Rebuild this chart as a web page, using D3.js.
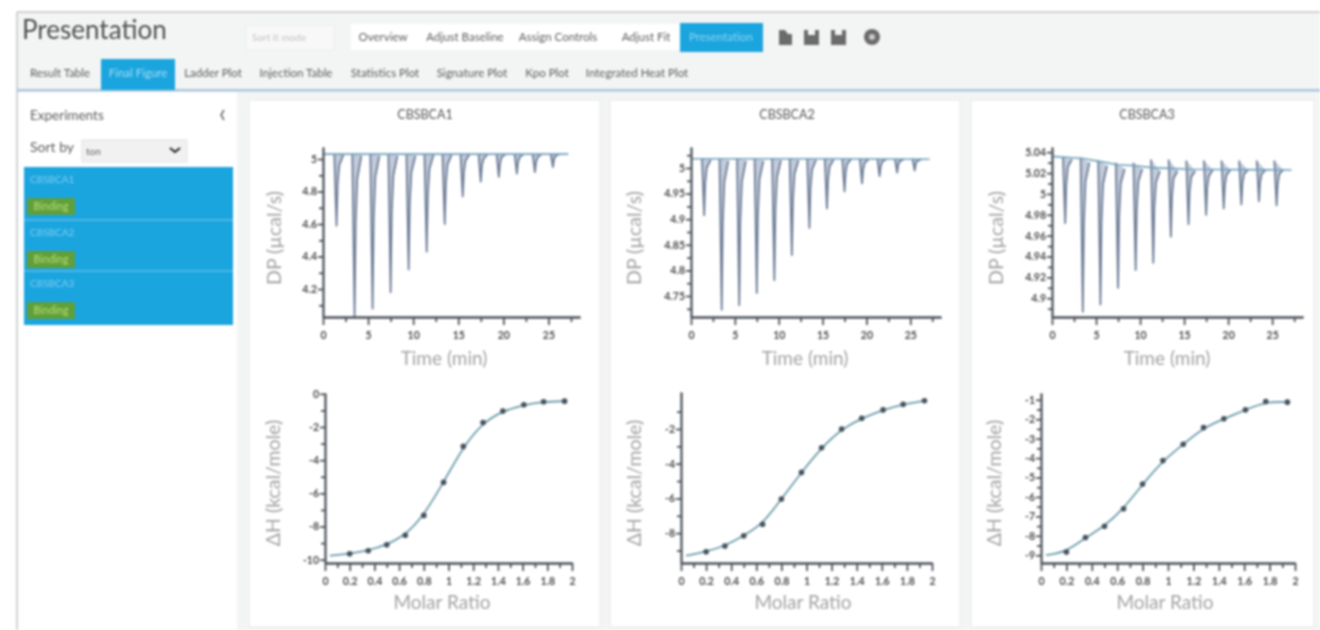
<!DOCTYPE html>
<html>
<head>
<meta charset="utf-8">
<script src="https://cdn.jsdelivr.net/npm/d3@7"></script>
<style>
html, body { margin: 0; padding: 0; background: #fff; overflow: hidden; }
svg { display: block; filter: blur(0.9px); }
text { font-family: Lato, "Open Sans", sans-serif; }
.tick text { font-size: 10.5px; font-weight: 700; fill: #4a4a4a; }
</style>
</head>
<body>
<div id="chart"></div>
<script>
// toolbar + sidebar texts
const navButtons = ['Overview', 'Adjust Baseline', 'Assign Controls', 'Adjust Fit']
const tabNames = ['Result Table', 'Final Figure', 'Ladder Plot', 'Injection Table', 'Statistics Plot', 'Signature Plot', 'Kpo Plot', 'Integrated Heat Plot']
const experimentNames = ['CBSBCA1', 'CBSBCA2', 'CBSBCA3']

// thermograms: 13 injections, every peak read as level before / tip / three points on the way back
const injectionTimes = [1.5, 3.5, 5.5, 7.5, 9.5, 11.5, 13.5, 15.5, 17.5, 19.5, 21.5, 23.5, 25.5]
const peakOffsets = [-0.25, 0, 0.12, 0.3, 0.75]

const dpLevel1 = [5.03, 5.03, 5.03, 5.03, 5.03, 5.03, 5.03, 5.03, 5.03, 5.03, 5.03, 5.03, 5.03]
const dpTip1 = [4.59, 4.03, 4.08, 4.18, 4.32, 4.43, 4.6, 4.77, 4.86, 4.89, 4.91, 4.92, 4.95]
const dpFall1 = [4.845, 4.61, 4.63, 4.67, 4.73, 4.78, 4.85, 4.92, 4.96, 4.97, 4.98, 4.98, 5]
const dpRise1 = [4.96, 4.88, 4.89, 4.9, 4.92, 4.94, 4.965, 4.99, 5, 5.01, 5.01, 5.01, 5.02]
const dpTail1 = [5.025, 5.02, 5.02, 5.02, 5.02, 5.025, 5.025, 5.03, 5.03, 5.03, 5.03, 5.03, 5.03]

const dpLevel2 = [5.018, 5.018, 5.018, 5.018, 5.018, 5.018, 5.018, 5.018, 5.018, 5.018, 5.018, 5.018, 5.018]
const dpTip2 = [4.908, 4.723, 4.732, 4.756, 4.781, 4.83, 4.883, 4.921, 4.954, 4.97, 4.984, 4.991, 4.995]
const dpFall2 = [4.971, 4.894, 4.897, 4.907, 4.918, 4.938, 4.961, 4.977, 4.991, 4.997, 5.003, 5.006, 5.008]
const dpRise2 = [5.001, 4.973, 4.974, 4.978, 4.982, 4.989, 4.997, 5.003, 5.008, 5.01, 5.012, 5.013, 5.014]
const dpTail2 = [5.016, 5.014, 5.014, 5.014, 5.015, 5.015, 5.016, 5.016, 5.017, 5.017, 5.017, 5.017, 5.017]

const dpLevel3 = [5.035, 5.035, 5.032, 5.03, 5.03, 5.033, 5.033, 5.032, 5.032, 5.032, 5.032, 5.032, 5.032]
const dpTip3 = [4.972, 4.887, 4.894, 4.91, 4.927, 4.934, 4.959, 4.971, 4.98, 4.986, 4.99, 4.993, 4.989]
const dpFall3 = [5.009, 4.972, 4.973, 4.978, 4.985, 4.987, 4.997, 5.002, 5.006, 5.008, 5.01, 5.011, 5.009]
const dpRise3 = [5.026, 5.012, 5.01, 5.01, 5.012, 5.011, 5.015, 5.016, 5.017, 5.018, 5.019, 5.019, 5.019]
const dpTail3 = [5.033, 5.03, 5.027, 5.024, 5.024, 5.022, 5.022, 5.022, 5.023, 5.023, 5.023, 5.023, 5.023]

// fitted baseline under the thermograms
const baseTimes = [0, 3.5, 5.5, 7.5, 9.5, 11.5, 13.5, 15.5, 27.2]
const baseline1 = [5.03, 5.03, 5.03, 5.03, 5.03, 5.03, 5.03, 5.03, 5.03]
const baseline2 = [5.018, 5.018, 5.018, 5.018, 5.018, 5.018, 5.018, 5.018, 5.017]
const baseline3 = [5.036, 5.034, 5.031, 5.028, 5.027, 5.025, 5.0245, 5.0236, 5.023]

// integrated heats
const molarRatio = [0.2, 0.35, 0.5, 0.65, 0.8, 0.96, 1.12, 1.28, 1.44, 1.61, 1.77, 1.94]
const heat1 = [-9.64, -9.46, -9.1, -8.53, -7.33, -5.34, -3.17, -1.73, -1.04, -0.66, -0.48, -0.44]
const heat2 = [-9.07, -8.74, -8.15, -7.49, -6.03, -4.5, -3.08, -2, -1.38, -0.9, -0.58, -0.37]
const heat3 = [-8.83, -8.09, -7.51, -6.61, -5.34, -4.13, -3.29, -2.43, -1.98, -1.52, -1.09, -1.12]
const fitStartRatio = 0.04
const fitStartHeat = [-9.76, -9.3, -9]

// axis ticks
const timeTicks = [0, 5, 10, 15, 20, 25]
const timeMinor = [2.5, 7.5, 12.5, 17.5, 22.5, 27.5]
const ratioTicks = [0, 0.2, 0.4, 0.6, 0.8, 1, 1.2, 1.4, 1.6, 1.8, 2]
const ratioMinor = [0.1, 0.3, 0.5, 0.7, 0.9, 1.1, 1.3, 1.5, 1.7, 1.9]
const dpTicks1 = [5, 4.8, 4.6, 4.4, 4.2]
const dpMinor1 = [4.9, 4.7, 4.5, 4.3, 4.1]
const dpTicks2 = [5, 4.95, 4.9, 4.85, 4.8, 4.75]
const dpMinor2 = [5.025, 4.975, 4.925, 4.875, 4.825, 4.775, 4.725]
const dpTicks3 = [5.04, 5.02, 5, 4.98, 4.96, 4.94, 4.92, 4.9]
const dpMinor3 = [5.03, 5.01, 4.99, 4.97, 4.95, 4.93, 4.91, 4.89]
const heatTicks1 = [0, -2, -4, -6, -8, -10]
const heatMinor1 = [-1, -3, -5, -7, -9]
const heatTicks2 = [-2, -4, -6, -8]
const heatMinor2 = [-1, -3, -5, -7, -9]
const heatTicks3 = [-1, -2, -3, -4, -5, -6, -7, -8, -9]
const heatMinor3 = [-1.5, -2.5, -3.5, -4.5, -5.5, -6.5, -7.5, -8.5]

const blue = '#1ba5df'
const width = 1320
const height = 630

const svg = d3.select('#chart').append('svg').attr('width', width).attr('height', height)

// ---- page chrome ----
svg.append('rect').attr('x', 17).attr('y', 12).attr('width', 1303).attr('height', 618).attr('fill', '#f3f4f4')
svg.append('line').attr('x1', 17).attr('x2', 1320).attr('y1', 12).attr('y2', 12).attr('stroke', '#a9a9a9').attr('stroke-width', 1)
svg.append('line').attr('x1', 17).attr('x2', 17).attr('y1', 12).attr('y2', 630).attr('stroke', '#a9a9a9').attr('stroke-width', 1)
svg.append('text').attr('x', 22).attr('y', 39).attr('font-size', 26).attr('fill', '#4f4f4f').text('Presentation')

// search box and nav buttons
svg.append('rect').attr('x', 246).attr('y', 25).attr('width', 88).attr('height', 25).attr('fill', '#f8f8f8').attr('stroke', '#ececec')
svg.append('text').attr('x', 252).attr('y', 41).attr('font-size', 10).attr('fill', '#c4c4c4').text('Sort it mode')
svg.append('rect').attr('x', 351).attr('y', 24).attr('width', 330).attr('height', 26).attr('fill', '#fff')
const navX = [383, 465, 558, 646]
svg.selectAll('.nav').data(navButtons).join('text').attr('class', 'nav')
    .attr('x', (d, i) => navX[i]).attr('y', 41).attr('text-anchor', 'middle')
    .attr('font-size', 11.5).attr('fill', '#5c5c5c').text(d => d)
svg.append('rect').attr('x', 680).attr('y', 23).attr('width', 83).attr('height', 29).attr('fill', blue)
svg.append('text').attr('x', 721).attr('y', 41).attr('text-anchor', 'middle').attr('font-size', 11.5).attr('fill', '#8fd3f0').text('Presentation')

// toolbar icons
const icons = svg.append('g').attr('fill', '#6b6b6b')
icons.append('path').attr('d', 'M779 30h6l3 4h4v11h-13z')
icons.append('path').attr('d', 'M804 30h15v15h-15z M808 30v5h7v-5z').attr('fill-rule', 'evenodd')
icons.append('path').attr('d', 'M831 30h15v15h-15z M835 30v5h7v-5z').attr('fill-rule', 'evenodd')
icons.append('circle').attr('cx', 872).attr('cy', 37).attr('r', 8)
icons.append('circle').attr('cx', 872).attr('cy', 37).attr('r', 3).attr('fill', '#c9c9c9')

// tabs
svg.append('rect').attr('x', 17).attr('y', 89).attr('width', 1303).attr('height', 2.5).attr('fill', '#a9c6dc')
svg.append('rect').attr('x', 101).attr('y', 59).attr('width', 74).attr('height', 31).attr('fill', blue)
const tabX = [60, 138, 213, 296, 385, 472, 547, 637]
svg.selectAll('.tab').data(tabNames).join('text').attr('class', 'tab')
    .attr('x', (d, i) => tabX[i]).attr('y', 77).attr('text-anchor', 'middle')
    .attr('font-size', 11.5).attr('fill', (d, i) => i == 1 ? '#a5dcf3' : '#5c5c5c').text(d => d)

// sidebar
svg.append('rect').attr('x', 18).attr('y', 92).attr('width', 219).attr('height', 538).attr('fill', '#fff')
svg.append('text').attr('x', 30).attr('y', 120).attr('font-size', 13.5).attr('fill', '#5c5c5c').text('Experiments')
svg.append('path').attr('d', 'M224 110l-3 5 3 5').attr('fill', 'none').attr('stroke', '#666').attr('stroke-width', 1.5)
svg.append('text').attr('x', 30).attr('y', 152).attr('font-size', 14).attr('fill', '#5c5c5c').text('Sort by')
svg.append('rect').attr('x', 82).attr('y', 140).attr('width', 105).attr('height', 22).attr('fill', '#f1f1f1').attr('stroke', '#e2e2e2')
svg.append('text').attr('x', 86).attr('y', 155).attr('font-size', 10).attr('fill', '#666').text('ton')
svg.append('path').attr('d', 'M170 148l5 4 5-4').attr('fill', 'none').attr('stroke', '#222').attr('stroke-width', 2)
svg.append('rect').attr('x', 24).attr('y', 167).attr('width', 209).attr('height', 158).attr('fill', blue)
const rowY = [167, 220, 271]
const rows = svg.selectAll('.row').data(experimentNames).join('g').attr('class', 'row')
    .attr('transform', (d, i) => `translate(24,${rowY[i]})`)
rows.filter((d, i) => i > 0).append('rect').attr('y', -0.5).attr('width', 209).attr('height', 1).attr('fill', '#7cc9ec')
rows.append('text').attr('x', 6).attr('y', 16).attr('font-size', 10).attr('fill', '#7fcdf0').text(d => d)
rows.append('rect').attr('x', 3).attr('y', 31).attr('width', 48).attr('height', 17).attr('fill', '#5f9f3c')
rows.append('text').attr('x', 27).attr('y', 43).attr('text-anchor', 'middle').attr('font-size', 10.5).attr('fill', '#bcdc6e').text('Binding')

// ---- panels ----
const cards = [
    { x: 249, w: 351, title: 'CBSBCA1', tx: 425 },
    { x: 610, w: 350, title: 'CBSBCA2', tx: 787 },
    { x: 971, w: 343, title: 'CBSBCA3', tx: 1147 }
]
svg.selectAll('.card').data(cards).join('rect').attr('class', 'card')
    .attr('x', d => d.x).attr('y', 100).attr('width', d => d.w).attr('height', 527)
    .attr('fill', '#fff').attr('stroke', '#e9e9e9')
svg.selectAll('.title').data(cards).join('text').attr('class', 'title')
    .attr('x', d => d.tx).attr('y', 119).attr('text-anchor', 'middle')
    .attr('font-size', 12.5).attr('fill', '#555').text(d => d.title)

const tickLabel = d => d3.format('~g')(d).replace('−', '-')

// major ticks with labels, then short unlabelled ones on top of the same axis
function drawAxes(cfg, x, y) {
    const axisColor = '#4d535b'
    const gx = svg.append('g').attr('transform', `translate(0,${cfg.bottom})`)
        .call(d3.axisBottom(x).tickValues(cfg.xTicks).tickSize(8).tickPadding(7).tickSizeOuter(0).tickFormat(tickLabel))
    const gxm = svg.append('g').attr('transform', `translate(0,${cfg.bottom})`)
        .call(d3.axisBottom(x).tickValues(cfg.xMinor).tickSize(5).tickSizeOuter(0).tickFormat(''))
    const gy = svg.append('g').attr('transform', `translate(${cfg.left},0)`)
        .call(d3.axisLeft(y).tickValues(cfg.yTicks).tickSize(5).tickPadding(1).tickSizeOuter(0).tickFormat(tickLabel))
    const gym = svg.append('g').attr('transform', `translate(${cfg.left},0)`)
        .call(d3.axisLeft(y).tickValues(cfg.yMinor).tickSize(4).tickSizeOuter(0).tickFormat(''))
    ;[gx, gxm, gy, gym].forEach(g => {
        g.selectAll('.domain, line').attr('stroke', axisColor).attr('stroke-width', 1.8)
        g.attr('font-family', null).attr('font-size', null)
    })
    svg.append('text').attr('x', cfg.xTitleX).attr('y', cfg.xTitleY).attr('text-anchor', 'middle')
        .attr('font-size', 19).attr('fill', '#a3a3a3').text(cfg.xTitle)
    svg.append('text').attr('transform', `translate(${cfg.yTitleX},${cfg.yTitleY}) rotate(-90)`).attr('text-anchor', 'middle')
        .attr('font-size', 19.5).attr('fill', '#a3a3a3').text(cfg.yTitle)
}

function drawThermogram(cfg) {
    const x = d3.scaleLinear().domain([0, 28.5]).range([cfg.left, cfg.right])
    const y = d3.scaleLinear().domain(cfg.yDomain).range([cfg.bottom, cfg.top])
    const line = d3.line().x(d => x(d[0])).y(d => y(d[1]))

    // one closed wedge per injection, otherwise the fill spreads along the baseline
    injectionTimes.forEach((t, i) => {
        const vals = [cfg.level[i], cfg.tip[i], cfg.fall[i], cfg.rise[i], cfg.tail[i]]
        const peak = vals.map((v, j) => [t + peakOffsets[j], v])
        svg.append('path').attr('d', line(peak)).attr('fill', '#9aa9bf').attr('fill-opacity', 0.6)
            .attr('stroke', '#6d7c96').attr('stroke-width', 1.8).attr('stroke-linejoin', 'round')
    })
    svg.append('path').attr('d', line(baseTimes.map((t, i) => [t, cfg.baseline[i]])))
        .attr('fill', 'none').attr('stroke', '#6fa0bb').attr('stroke-width', 1.6)

    drawAxes(Object.assign({ xTicks: timeTicks, xMinor: timeMinor, xTitle: 'Time (min)', yTitle: 'DP (µcal/s)' }, cfg), x, y)
}

function drawHeats(cfg) {
    const x = d3.scaleLinear().domain([0, 2]).range([cfg.left, cfg.x2])
    const y = d3.scaleLinear().domain(cfg.yDomain).range([cfg.bottom, cfg.top])

    const fit = [[fitStartRatio, cfg.fitStart]].concat(molarRatio.map((r, i) => [r, cfg.heat[i]]))
    const line = d3.line().x(d => x(d[0])).y(d => y(d[1])).curve(d3.curveBasis)
    svg.append('path').attr('d', line(fit)).attr('fill', 'none').attr('stroke', '#6d9dac').attr('stroke-width', 1.8)
    svg.append('g').selectAll('circle').data(molarRatio).join('circle')
        .attr('cx', d => x(d)).attr('cy', (d, i) => y(cfg.heat[i])).attr('r', 2.8).attr('fill', '#45515d')

    drawAxes(Object.assign({ xTicks: ratioTicks, xMinor: ratioMinor, xTitle: 'Molar Ratio', yTitle: 'ΔH (kcal/mole)' }, cfg), x, y)
}

drawThermogram({ left: 323, right: 580, top: 147, bottom: 317, yDomain: [4.028, 5.074], level: dpLevel1, tip: dpTip1, fall: dpFall1, rise: dpRise1, tail: dpTail1, baseline: baseline1,
    yTicks: dpTicks1, yMinor: dpMinor1, xTitleX: 444, xTitleY: 365, yTitleX: 281, yTitleY: 238 })
drawThermogram({ left: 691, right: 941, top: 147, bottom: 317, yDomain: [4.709, 5.041], level: dpLevel2, tip: dpTip2, fall: dpFall2, rise: dpRise2, tail: dpTail2, baseline: baseline2,
    yTicks: dpTicks2, yMinor: dpMinor2, xTitleX: 805, xTitleY: 365, yTitleX: 641, yTitleY: 238 })
drawThermogram({ left: 1052, right: 1303, top: 147, bottom: 317, yDomain: [4.882, 5.045], level: dpLevel3, tip: dpTip3, fall: dpFall3, rise: dpRise3, tail: dpTail3, baseline: baseline3,
    yTicks: dpTicks3, yMinor: dpMinor3, xTitleX: 1167, xTitleY: 365, yTitleX: 1003, yTitleY: 238 })

drawHeats({ left: 325, x2: 572, top: 393, bottom: 563, yDomain: [-10.2, 0.05], heat: heat1, fitStart: fitStartHeat[0],
    yTicks: heatTicks1, yMinor: heatMinor1, xTitleX: 442, xTitleY: 609, yTitleX: 280, yTitleY: 483 })
drawHeats({ left: 681, x2: 932, top: 392, bottom: 563, yDomain: [-9.72, 0.13], heat: heat2, fitStart: fitStartHeat[1],
    yTicks: heatTicks2, yMinor: heatMinor2, xTitleX: 803, xTitleY: 609, yTitleX: 641, yTitleY: 483 })
drawHeats({ left: 1041, x2: 1295, top: 393, bottom: 563, yDomain: [-9.4, -0.65], heat: heat3, fitStart: fitStartHeat[2],
    yTicks: heatTicks3, yMinor: heatMinor3, xTitleX: 1165, xTitleY: 609, yTitleX: 1001, yTitleY: 483 })
</script>
</body>
</html>
